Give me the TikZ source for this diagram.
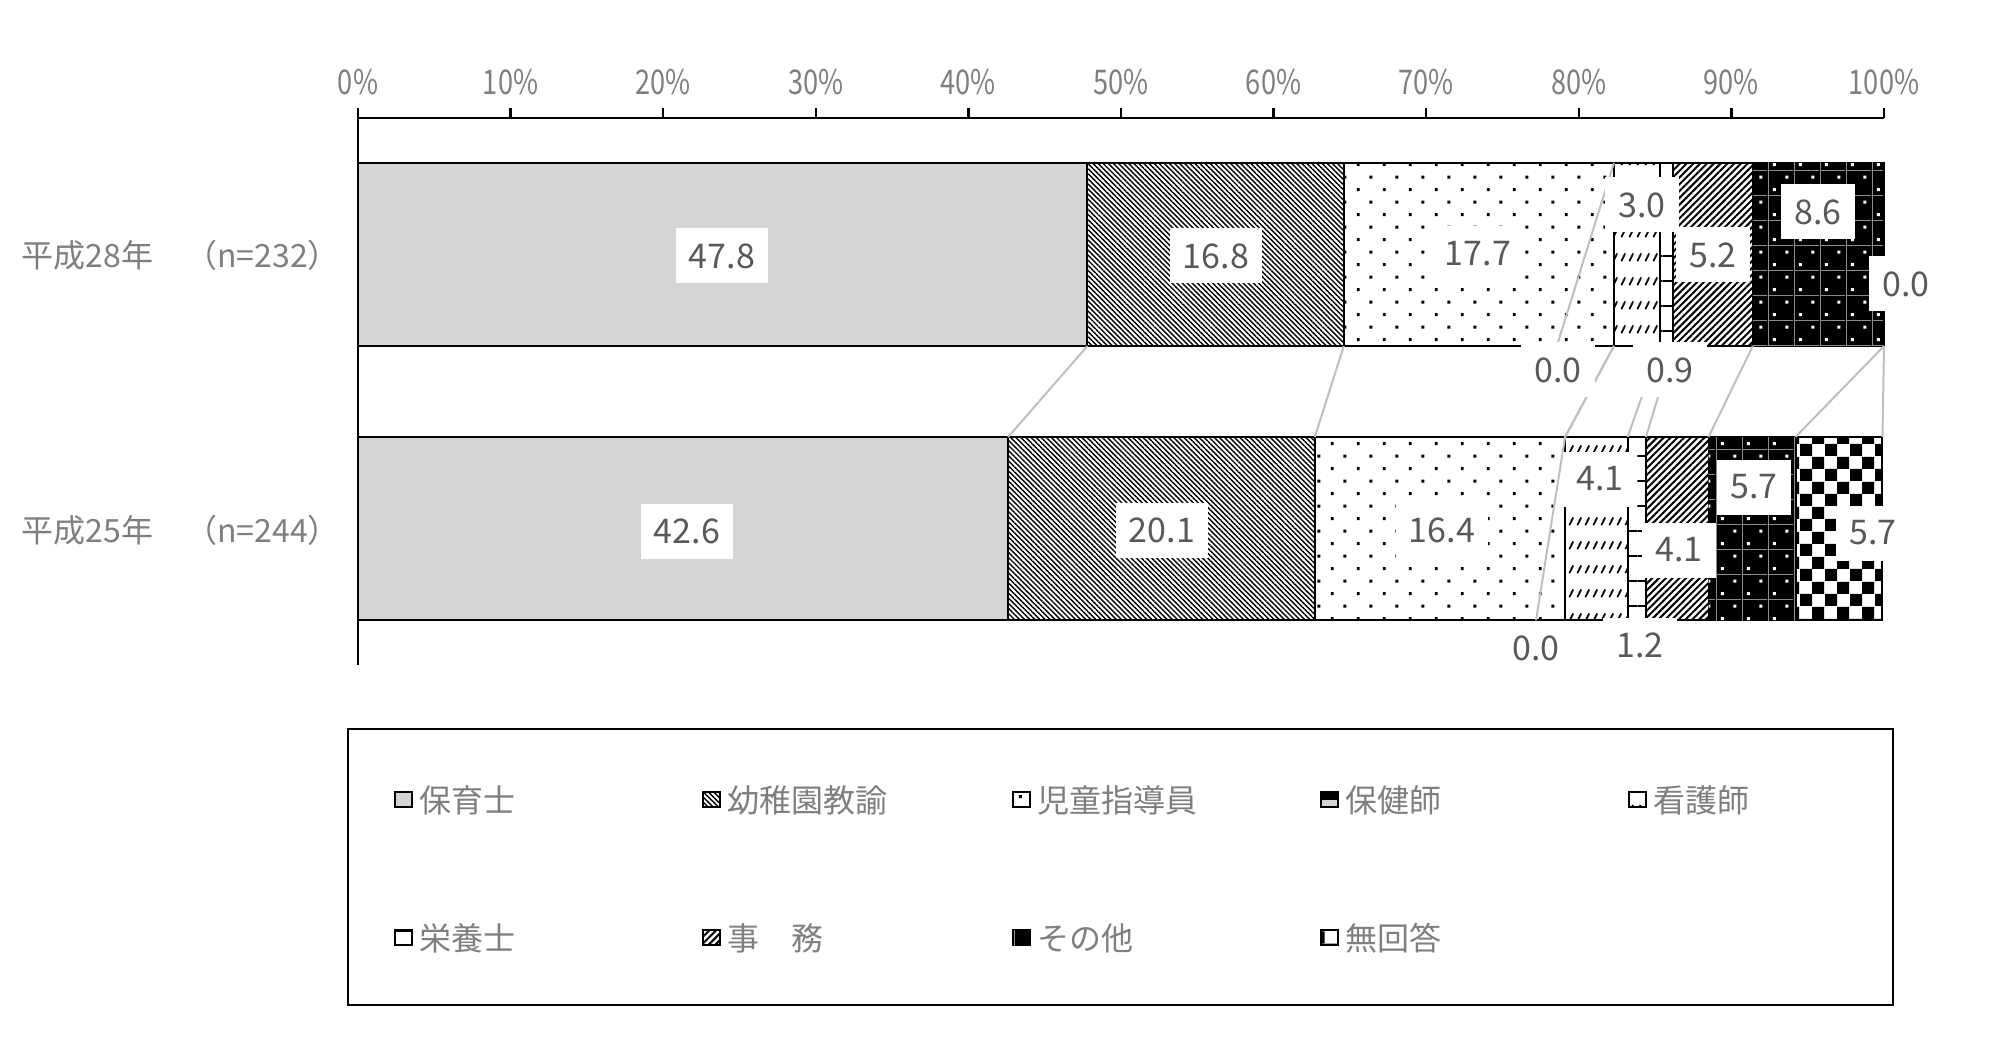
\documentclass[tikz,border=0pt]{standalone}
\usepackage{fontspec}
\setmainfont{Noto Sans CJK JP}
\newfontfamily\axisfont[FakeStretch=0.8]{Noto Sans CJK JP}
\usetikzlibrary{patterns.meta}
\definecolor{labelgray}{RGB}{127,127,127}
\definecolor{valuegray}{RGB}{89,89,89}
\definecolor{hoikugray}{RGB}{212,212,212}
\definecolor{seriesgray}{RGB}{191,191,191}
\definecolor{gridgray}{RGB}{140,140,140}

% Fill patterns of the bar segments
\pgfdeclarepattern{
  name=sparsedots, type=uncolored,
  bottom left={\pgfpoint{0pt}{0pt}}, top right={\pgfpoint{26pt}{25.4pt}},
  tile size={\pgfpoint{26pt}{25.4pt}},
  code={
    \pgfpathrectangle{\pgfpoint{5pt}{5pt}}{\pgfpoint{3pt}{3pt}}
    \pgfpathrectangle{\pgfpoint{18pt}{17.7pt}}{\pgfpoint{3pt}{3pt}}
    \pgfusepath{fill}
  }
}
\pgfdeclarepattern{
  name=dashrows, type=uncolored,
  bottom left={\pgfpoint{0pt}{0pt}}, top right={\pgfpoint{7.5pt}{24pt}},
  tile size={\pgfpoint{7.5pt}{24pt}},
  code={
    \pgfsetlinewidth{1.8pt}
    \pgfpathmoveto{\pgfpoint{1.5pt}{3pt}}
    \pgfpathlineto{\pgfpoint{5.5pt}{11pt}}
    \pgfusepath{stroke}
  }
}
\pgfdeclarepattern{
  name=checks, type=uncolored,
  bottom left={\pgfpoint{0pt}{0pt}}, top right={\pgfpoint{25pt}{25pt}},
  tile size={\pgfpoint{25pt}{25pt}},
  code={
    \pgfpathrectangle{\pgfpointorigin}{\pgfpoint{12.5pt}{12.5pt}}
    \pgfpathrectangle{\pgfpoint{12.5pt}{12.5pt}}{\pgfpoint{12.5pt}{12.5pt}}
    \pgfusepath{fill}
  }
}
\pgfdeclarepattern{
  name=cellgrid, type=uncolored,
  bottom left={\pgfpoint{0pt}{0pt}}, top right={\pgfpoint{26pt}{25.4pt}},
  tile size={\pgfpoint{26pt}{25.4pt}},
  code={
    \pgfsetlinewidth{1pt}
    \pgfpathmoveto{\pgfpoint{0pt}{0.5pt}}
    \pgfpathlineto{\pgfpoint{26pt}{0.5pt}}
    \pgfpathmoveto{\pgfpoint{0.5pt}{0pt}}
    \pgfpathlineto{\pgfpoint{0.5pt}{25.4pt}}
    \pgfusepath{stroke}
  }
}

\tikzset{
  bar/.style={draw=black, line width=2pt},
  swatch/.style={draw=black, line width=2pt},
  hoiku/.style={fill=hoikugray},
  kinder/.style={pattern={Lines[angle=-45, distance=3.6pt, line width=1.4pt]}, pattern color=black},
  jidou/.style={pattern=sparsedots, pattern color=black},
  hoken/.style={fill=black, path picture={\fill[hoikugray] (path picture bounding box.west) rectangle (path picture bounding box.south east);}},
  kango/.style={pattern=dashrows, pattern color=black},
  eiyou/.style={pattern={Lines[angle=0, distance=25pt, line width=2.5pt]}, pattern color=black},
  jimu/.style={pattern={Lines[angle=45, distance=4.8pt, line width=2pt]}, pattern color=black},
  sonota/.style={fill=black, postaction={pattern=cellgrid, pattern color=gridgray}, postaction={pattern=sparsedots, pattern color=white}},
  mukaitou/.style={pattern=checks, pattern color=black},
  axisline/.style={draw=black, line width=2.5pt},
  seriesline/.style={draw=seriesgray, line width=2pt},
  axislabel/.style={text=labelgray, font=\axisfont\fontsize{34}{40}\selectfont, inner sep=0pt},
  rowlabel/.style={text=labelgray, font=\fontsize{32}{38}\selectfont, inner sep=0pt},
  valuelabel/.style={fill=white, text=valuegray, font=\fontsize{34}{40}\selectfont, inner xsep=13pt, inner ysep=0pt, minimum height=55pt},
  legendtext/.style={text=labelgray, font=\fontsize{32}{38}\selectfont, inner sep=0pt, anchor=west},
}
\pgfdeclarelayer{labels}
\pgfsetlayers{main,labels}

\begin{document}
\begin{tikzpicture}[x=1pt, y=-1pt]
    % Background and page size
    \fill[white] (0,0) rectangle (1997,1056);
    \useasboundingbox (0,0) rectangle (1997,1056);

    \begin{scope}[shift={(358,0)}, x=15.26pt]
        % Bars: H28 (top) and H25 (bottom)
        \foreach \i/\a/\b/\sty in {1/0/47.8/hoiku, 2/47.8/64.6/kinder, 3/64.6/82.3/jidou,
                4/82.3/82.3/hoken, 5/82.3/85.3/kango, 6/85.3/86.2/eiyou,
                7/86.2/91.4/jimu, 8/91.4/100/sonota, 9/100/100/mukaitou} {
            \draw[bar, \sty] (\a,163) rectangle (\b,346);
            \coordinate (t28-\i) at (\b,163);
            \coordinate (b28-\i) at (\b,346);
        }
        \foreach \i/\a/\b/\sty in {1/0/42.6/hoiku, 2/42.6/62.7/kinder, 3/62.7/79.1/jidou,
                4/79.1/79.1/hoken, 5/79.1/83.2/kango, 6/83.2/84.4/eiyou,
                7/84.4/88.5/jimu, 8/88.5/94.2/sonota, 9/94.2/99.9/mukaitou} {
            \draw[bar, \sty] (\a,437) rectangle (\b,620);
            \coordinate (t25-\i) at (\b,437);
        }

        % Series lines between the two bars
        \foreach \i in {1,...,9} {
            \draw[seriesline] (b28-\i) -- (t25-\i);
        }

        % Axis with ticks and percent labels
        \draw[axisline] (0,108) -- (0,665);
        \draw[axisline] (0,118) -- (100,118);
        \foreach \t in {0,10,...,100} {
            \draw[axisline] (\t,108) -- (\t,118);
            \node[axislabel] (ax\t) at (\t,82) {\t\%};
        }
    \end{scope}

    % Row labels
    \node[rowlabel, anchor=east] (row28) at (340,255) {平成28年　（n=232）};
    \node[rowlabel, anchor=east] (row25) at (340,530) {平成25年　（n=244）};

    % Value labels
    \begin{pgfonlayer}{labels}
        \node[valuelabel] (v28-1) at (722,256) {47.8};
        \node[valuelabel] (v28-2) at (1216,256) {16.8};
        \node[valuelabel] (v28-3) at (1478,254) {17.7};
        \node[valuelabel] (v28-4) at (1558,370) {0.0};
        \node[valuelabel] (v28-5) at (1642,205) {3.0};
        \node[valuelabel] (v28-6) at (1670,370) {0.9};
        \node[valuelabel] (v28-7) at (1713,255) {5.2};
        \node[valuelabel] (v28-8) at (1818,212) {8.6};
        \node[valuelabel] (v28-9) at (1906,284) {0.0};
        \node[valuelabel] (v25-1) at (687,531) {42.6};
        \node[valuelabel] (v25-2) at (1162,530) {20.1};
        \node[valuelabel] (v25-3) at (1442,530) {16.4};
        \node[valuelabel] (v25-4) at (1536,648) {0.0};
        \node[valuelabel] (v25-5) at (1600,479) {4.1};
        \node[valuelabel] (v25-6) at (1640,645) {1.2};
        \node[valuelabel] (v25-7) at (1679,550) {4.1};
        \node[valuelabel] (v25-8) at (1754,487) {5.7};
        \node[valuelabel] (v25-9) at (1873,533) {5.7};
    \end{pgfonlayer}

    % Leader lines of the zero labels
    \draw[seriesline] (v28-4.north) -- (t28-4);
    \draw[seriesline] (v25-4.north) -- (t25-4);

    % Legend
    \draw[black, line width=2pt] (348,729) rectangle (1893,1005);
    \foreach \x/\y/\sty/\txt in {395/800/hoiku/保育士, 703/800/kinder/幼稚園教諭,
            1013/800/jidou/児童指導員, 1321/800/hoken/保健師, 1629/800/kango/看護師,
            395/938/eiyou/栄養士, 703/938/jimu/事　務, 1013/938/sonota/その他,
            1321/938/mukaitou/無回答} {
        \draw[swatch, \sty] (\x,\y-8) rectangle (\x+17,\y+7);
        \node[legendtext] at (\x+24,\y) {\txt};
    }

\end{tikzpicture}
\end{document}
